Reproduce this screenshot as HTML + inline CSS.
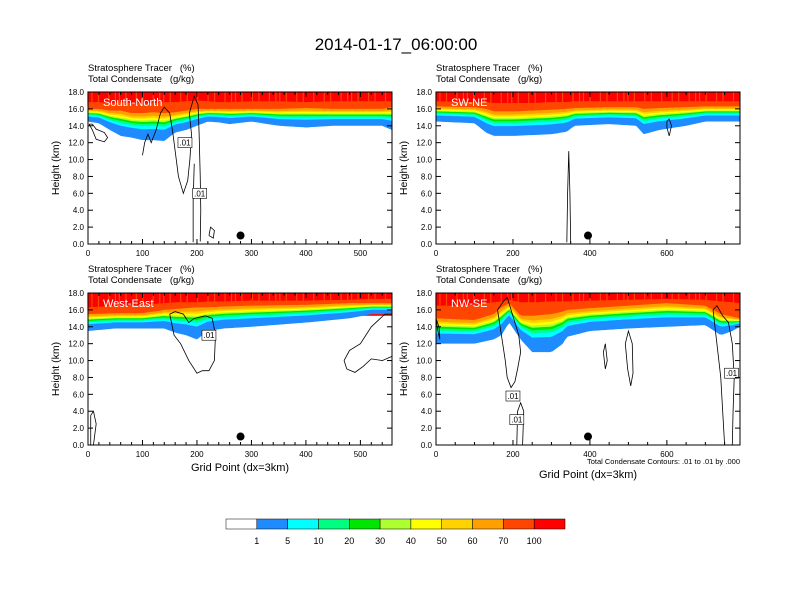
<!DOCTYPE html>
<html><head><meta charset="utf-8">
<style>
html,body{margin:0;padding:0;background:#fff;}
svg{display:block;font-family:"Liberation Sans",sans-serif;}
</style></head>
<body>
<svg id="chart" width="792" height="612" viewBox="0 0 792 612">
<text x="396" y="50" font-size="17" text-anchor="middle">2014-01-17_06:00:00</text>
</svg>
<script>
// ---- data ----
const levelLabels = ["1","5","10","20","30","40","50","60","70","100"];
const levelColors = ["#ffffff","#1e8cff","#00ffff","#00ff80","#00e600","#adff2f","#ffff00","#ffd200","#ffa000","#ff4600","#ff0000"];
const yTicks = [0,2,4,6,8,10,12,14,16,18];

const snX  = [0,20,40,60,80,100,120,140,160,180,200,220,240,260,300,350,400,450,500,540,558];
const snH1 = [14.5,14.3,13.5,12.8,12.6,12.3,12.3,12.2,13.2,13.5,14.0,14.5,14.4,14.2,14.5,14.0,13.8,14.0,14.0,14.0,13.5];
const snH70= [16.0,16.0,15.8,15.8,15.5,15.5,15.6,15.5,15.6,15.8,16.0,16.0,16.0,16.0,16.0,16.0,16.1,16.0,16.0,16.0,16.2];
const snRed= [16.8,16.8,16.7,16.8,16.7,16.6,16.7,16.8,16.8,16.9,17.0,16.9,16.8,16.8,16.9,16.9,16.8,16.9,16.9,16.9,16.9];

const swX  = [0,100,130,150,200,250,300,340,360,450,520,540,580,650,700,790];
const swH1 = [14.5,14.3,13.2,12.8,12.8,12.9,13.0,13.3,14.0,14.2,14.0,13.0,13.5,14.0,14.5,14.5];
const swH70= [16.3,16.2,16.0,15.7,15.7,15.8,15.9,16.0,16.1,16.2,16.2,16.0,16.1,16.2,16.3,16.3];
const swRed= [16.9,16.8,16.8,16.7,16.7,16.7,16.8,16.8,16.9,16.9,16.9,16.9,16.9,16.9,16.9,16.9];

const weX  = [0,50,100,140,160,180,200,220,250,300,400,480,520,558];
const weH1 = [13.5,13.8,13.8,13.8,13.3,13.0,12.5,13.5,13.8,14.0,14.5,15.0,15.5,15.5];
const weH70= [15.5,15.6,15.6,16.0,16.1,16.2,16.3,16.3,16.4,16.5,16.6,16.8,16.8,16.8];
const weRed= [16.3,16.5,16.6,16.8,16.9,16.9,16.9,17.0,17.0,17.1,17.1,17.2,17.3,17.3];

const nwX  = [0,50,100,150,170,190,220,250,300,330,340,400,500,600,700,740,770,790];
const nwH1 = [12.0,12.0,12.0,12.5,13.0,14.5,12.5,11.0,11.0,12.0,12.8,13.5,13.8,14.0,14.2,13.0,13.5,14.0];
const nwH70= [15.0,14.9,14.8,15.5,16.3,16.8,15.3,15.3,15.5,15.8,16.0,16.2,16.5,16.8,16.5,15.5,15.2,15.0];
const nwRed= [16.5,16.5,16.6,16.9,17.0,17.2,16.9,16.9,17.0,17.0,17.0,17.1,17.2,17.3,17.2,17.0,16.9,16.8];

// condensate contours [grid, km]
const snC1 = [[100,10.5],[104,12],[110,13],[116,12],[125,13.5],[133,15.5],[140,16.2],[150,15.5],[156,13],[160,11],[166,8],[175,6],[183,7.5],[187,10],[190,13],[186,15.5],[195,17.5],[202,16.5],[204,13],[206,8],[207,4],[206,0.3]];
const snC2 = [[195,9.5],[193,5],[193,0.2]];
const snC3 = [[2,14.2],[8,13.5],[15,12.4],[30,12.1],[36,12.6],[30,13.2],[15,13.6],[8,14.2],[2,14.2]];
const snC4 = [[222,1],[225,2],[232,1.6],[230,0.7],[222,1]];
const swC1 = [[340,0.2],[342,6],[345,11],[348,6],[350,0.2]];
const swC2 = [[600,14.5],[606,14.8],[612,14],[606,12.8],[600,13.8],[600,14.5]];
const weC1 = [[150,15.5],[158,13],[170,12],[185,10],[200,8.5],[210,8.8],[222,8.8],[232,10],[234,13],[228,15],[215,15.3],[195,15],[185,14.5],[175,15.5],[160,15.8],[150,15.5]];
const weC2 = [[470,10],[480,11.2],[500,12],[520,14],[545,15.5],[558,15.5],[558,10.5],[540,10],[520,10.2],[505,9.3],[490,8.6],[475,9],[470,10]];
const weC3 = [[5,0],[5,3.5],[10,4],[15,2.5],[12,1],[10,0]];
const nwC1 = [[0,15],[5,13.5],[10,12.5],[8,14],[0,15]];
const nwC2 = [[160,16],[175,17],[185,17.5],[195,16],[215,13],[220,11],[212,9],[205,7.5],[195,6.8],[185,8],[180,10],[170,13],[160,16]];
const nwC3 = [[720,16],[730,12],[740,8],[745,4],[750,0],[770,0],[772,4],[775,8],[770,12],[760,14.5],[745,15.3],[730,16.5],[720,16]];
const nwC4 = [[435,11],[440,12],[445,10],[440,9],[435,11]];
const nwC5 = [[492,12],[500,13.5],[510,12],[512,8.5],[506,7],[498,9],[492,12]];
const nwC6 = [[210,0],[212,4],[220,5],[228,4],[225,0]];

// ---- drawing ----
const NS="http://www.w3.org/2000/svg";
const svg=document.getElementById('chart');
function el(tag,attrs,parent){const e=document.createElementNS(NS,tag);for(const k in attrs)e.setAttribute(k,attrs[k]);(parent||svg).appendChild(e);return e;}
function interp(xs,ys,x){for(let i=0;i<xs.length-1;i++){if(x>=xs[i]&&x<=xs[i+1]){const t=(x-xs[i])/(xs[i+1]-xs[i]);return ys[i]+t*(ys[i+1]-ys[i]);}}return ys[ys.length-1];}

const fracs=[0,0.4,0.52,0.6,0.67,0.73,0.8,0.87,1];
const SP='\u00a0\u00a0\u00a0';

function panel(name,px,py,pw,ph,xmax,xMajor,xMinor,label,xs,h1,h70,red,contours,boxes,dotX,showXTitle){
  const g=el('g',{});
  
  
  const sx=v=>px+v/xmax*pw, sy=v=>py+ph-v/18*ph;
  const t1=el('text',{x:px,y:py-21,'font-size':9.5},g);t1.textContent='Stratosphere Tracer'+SP+'(%)';
  
  const t2=el('text',{x:px,y:py-10,'font-size':9.5},g);t2.textContent='Total Condensate'+SP+'(g/kg)';
  
  const cg=el('g',{},g);
  
  const top=el('rect',{x:px,y:py,width:pw,height:ph*0.15,fill:levelColors[10]},cg);
  
  const N=120;
  function band(lowFn,colorIdx){
    let pts=[];
    for(let i=0;i<=N;i++){const x=xmax*i/N;pts.push(sx(x)+','+sy(lowFn(x)));}
    pts.push(sx(xmax)+','+py);pts.push(px+','+py);
    const p=el('polygon',{points:pts.join(' '),fill:levelColors[colorIdx]},cg);
    
    
  }
  for(let k=0;k<fracs.length;k++){
    const f=fracs[k];
    band(x=>{const a=interp(xs,h1,x),b=interp(xs,h70,x);return a+f*(b-a);},k+1);
  }
  band(x=>interp(xs,red,x),10);
  for(let i=0;i<40;i++){
    const x=xmax*(i*0.61803%1);
    const s=el('line',{x1:sx(x),x2:sx(x),y1:py,y2:sy(interp(xs,red,x)-0.4),stroke:'#ff4600','stroke-width':1.2},cg);
    
  }
  const lb=el('text',{x:px+15,y:py+14,'font-size':11,fill:'#fff'},g);lb.textContent=label;
  
  contours.forEach(c=>{
    const p=el('polyline',{points:c.map(q=>sx(q[0])+','+sy(q[1])).join(' '),fill:'none',stroke:'#000','stroke-width':0.8},g);
    
  });
  boxes.forEach(b=>{
    const r=el('rect',{x:sx(b[0])-7,y:sy(b[1])-5,width:14,height:10,fill:'#fff',stroke:'#000','stroke-width':0.6},g);
    
    const t=el('text',{x:sx(b[0]),y:sy(b[1])+3,'font-size':8,'text-anchor':'middle'},g);t.textContent='.01';
    
  });
  const d=el('circle',{cx:sx(dotX),cy:sy(1.0),r:4,fill:'#000'},g);
  
  const fr=el('rect',{x:px,y:py,width:pw,height:ph,fill:'none',stroke:'#000','stroke-width':1},g);
  
  yTicks.forEach(v=>{
    el('line',{x1:px,x2:px+5,y1:sy(v),y2:sy(v),stroke:'#000'},g);
    el('line',{x1:px+pw,x2:px+pw-5,y1:sy(v),y2:sy(v),stroke:'#000'},g);
    const t=el('text',{x:px-4,y:sy(v)+3,'font-size':8,'text-anchor':'end'},g);t.textContent=v.toFixed(1);
    
  });
  for(let v=0;v<=xmax;v+=xMinor){
    const maj=(v%xMajor===0);const L=maj?5:3;
    el('line',{x1:sx(v),x2:sx(v),y1:py+ph,y2:py+ph-L,stroke:'#000'},g);
    el('line',{x1:sx(v),x2:sx(v),y1:py,y2:py+L,stroke:'#000'},g);
    if(maj){const t=el('text',{x:sx(v),y:py+ph+12,'font-size':8,'text-anchor':'middle'},g);t.textContent=v;
      }
  }
  const yt=el('text',{x:0,y:0,'font-size':10.5,'text-anchor':'middle',transform:`translate(${px-29},${py+ph/2}) rotate(-90)`},g);
  yt.textContent='Height (km)';
  
  if(showXTitle){
    const xt=el('text',{x:px+pw/2,y:py+ph+(showXTitle===2?33:26),'font-size':11,'text-anchor':'middle'},g);
    xt.textContent='Grid Point (dx=3km)';
    
  }
}
panel('panel-south-north',88,92,304,152,558,100,20,'South-North',snX,snH1,snH70,snRed,[snC1,snC2,snC3,snC4],[[178,12],[205,6]],280,0);
panel('panel-sw-ne',436,92,304,152,790,200,50,'SW-NE',swX,swH1,swH70,swRed,[swC1,swC2],[],395,0);
panel('panel-west-east',88,293,304,152,558,100,20,'West-East',weX,weH1,weH70,weRed,[weC1,weC2,weC3],[[222,13]],280,1);
panel('panel-nw-se',436,293,304,152,790,200,50,'NW-SE',nwX,nwH1,nwH70,nwRed,[nwC1,nwC2,nwC3,nwC4,nwC5,nwC6],[[200,5.8],[768,8.5],[210,3]],395,2);

const note=el('text',{x:740,y:464,'font-size':7.5,'text-anchor':'end'});
note.textContent='Total Condensate Contours: .01 to .01 by .000';


const cb=el('g',{});

const cbX=226,cbW=339,cbY=519,cbH=10,bw=cbW/levelColors.length;
levelColors.forEach((c,i)=>{
  const r=el('rect',{x:cbX+i*bw,y:cbY,width:bw,height:cbH,fill:c,stroke:'#000','stroke-width':0.5},cb);
  
});
levelLabels.forEach((l,i)=>{
  const t=el('text',{x:cbX+(i+1)*bw,y:cbY+25,'font-size':9,'text-anchor':'middle'},cb);t.textContent=l;
  
});
</script>
</body></html>
